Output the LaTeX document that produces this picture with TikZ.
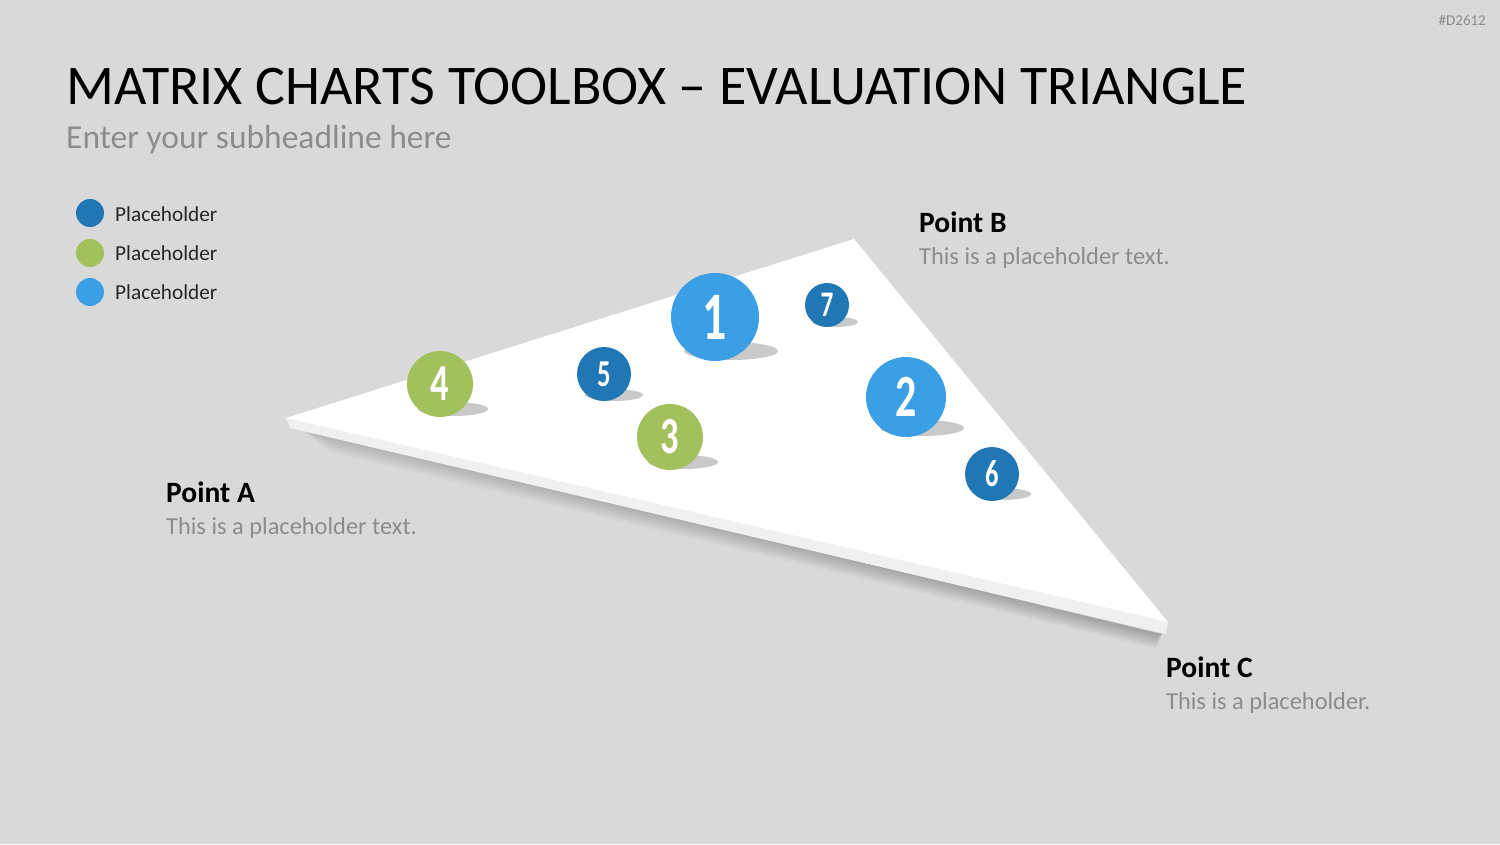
\documentclass[tikz,border=0pt]{standalone}
\usepackage{fontspec}
\setmainfont{Carlito}
\usetikzlibrary{positioning, calc, backgrounds}

\definecolor{bgGray}{HTML}{D9D9D9}
\definecolor{darkBlue}{HTML}{2077B4}
\definecolor{leafGreen}{HTML}{A2C15D}
\definecolor{skyBlue}{HTML}{3A9FE4}
\definecolor{textGray}{HTML}{8C8C8C}
\definecolor{shadowGray}{HTML}{C9C9C9}
\definecolor{slabGray}{HTML}{F0F0F0}

\newcommand{\numtag}[2]{\fontsize{#1}{#1}\selectfont\bfseries\scalebox{0.7}[1]{#2}}

\begin{document}
\begin{tikzpicture}[x=1pt, y=-1pt,
  dot/.style={circle, fill=#1, inner sep=0pt, text=white},
  legenddot/.style={circle, fill=#1, inner sep=0pt, minimum size=28pt},
  legendtext/.style={anchor=base west, inner sep=0pt,
                     font=\fontsize{21.3}{24}\selectfont, text=black!85},
  pointhead/.style={anchor=base west, inner sep=0pt,
                    font=\fontsize{29.5}{32}\selectfont\bfseries},
  pointtext/.style={anchor=base west, inner sep=0pt,
                    font=\fontsize{24.4}{28}\selectfont, text=textGray},
  shade/.style={fill=shadowGray}
]
\useasboundingbox (0,0) rectangle (1500,844);
\fill[bgGray] (0,0) rectangle (1500,844);

% headline
\node[anchor=base west, inner sep=0pt, font=\fontsize{56}{60}\selectfont]
  (title) at (66,104) {MATRIX CHARTS TOOLBOX -- EVALUATION TRIANGLE};
\node[anchor=base west, inner sep=0pt, font=\fontsize{33.5}{36}\selectfont,
  text=textGray] (subtitle) at (66,148) {Enter your subheadline here};
\node[anchor=base east, inner sep=0pt, font=\fontsize{15}{17}\selectfont,
  text=textGray] (tag) at (1486,25) {\#D2612};

% legend
\node[legenddot=darkBlue] (leg1) at (90,213) {};
\node[legenddot=leafGreen] (leg2) at (90,253) {};
\node[legenddot=skyBlue] (leg3) at (90,292) {};
\node[legendtext] (legtext1) at (115,221) {Placeholder};
\node[legendtext] (legtext2) at (115,260) {Placeholder};
\node[legendtext] (legtext3) at (115,299) {Placeholder};

% triangle
\coordinate (A) at (286,418);
\coordinate (B) at (854,239);
\coordinate (C) at (1168,622);
\coordinate (A2) at (290,428);
\coordinate (C2) at (1166,634);
\foreach \k in {3,6,...,24}
  \fill[black, opacity=0.03] ($(A2)+(10,0)$) -- ($(C2)+(-4,0)$)
    -- ($(C2)+(-10,\k*0.6)$) -- ($(A2)+(40,\k)$) -- cycle;
\fill[slabGray] (A) -- (C) -- (C2) -- (A2) -- cycle;
\fill[white] (A) -- (B) -- (C) -- cycle;

% bubbles
\fill[shade] (731,351) ellipse [x radius=47, y radius=9];
\fill[shade] (922,428) ellipse [x radius=42, y radius=8];
\fill[shade] (683,462) ellipse [x radius=35, y radius=7];
\fill[shade] (453,409) ellipse [x radius=35, y radius=7];
\fill[shade] (614,395) ellipse [x radius=29, y radius=6];
\fill[shade] (1003,494) ellipse [x radius=28, y radius=6];
\fill[shade] (835,322) ellipse [x radius=23, y radius=5];

\node[dot=skyBlue, minimum size=88pt] (one) at (715,317) {\numtag{68}{1}};
\node[dot=skyBlue, minimum size=80pt] (two) at (906,397) {\numtag{60}{2}};
\node[dot=leafGreen, minimum size=66pt] (three) at (670,437) {\numtag{52}{3}};
\node[dot=leafGreen, minimum size=66pt] (four) at (440,384) {\numtag{52}{4}};
\node[dot=darkBlue, minimum size=54pt] (five) at (604,374) {\numtag{38}{5}};
\node[dot=darkBlue, minimum size=54pt] (six) at (992,474) {\numtag{38}{6}};
\node[dot=darkBlue, minimum size=44pt] (seven) at (827,305) {\numtag{36}{7}};

% corner labels
\node[pointhead] (pointA) at (166,502) {Point A};
\node[pointtext] (textA) at (166,534) {This is a placeholder text.};
\node[pointhead] (pointB) at (919,232) {Point B};
\node[pointtext] (textB) at (919,264) {This is a placeholder text.};
\node[pointhead] (pointC) at (1166,677) {Point C};
\node[pointtext] (textC) at (1166,709) {This is a placeholder.};
\end{tikzpicture}
\end{document}
